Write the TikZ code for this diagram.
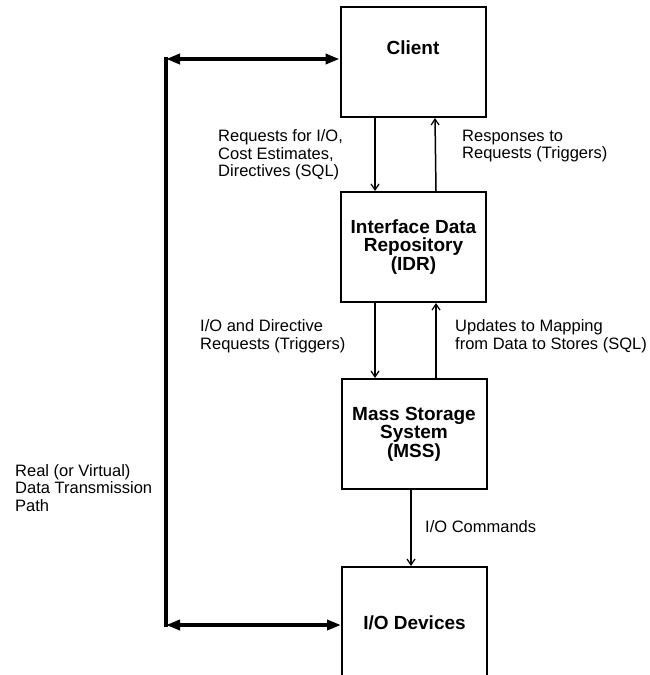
\documentclass[tikz,border=0pt]{standalone}
\usepackage{fontspec}
\setmainfont{Liberation Sans}
\usetikzlibrary{arrows.meta}
\begin{document}
\begin{tikzpicture}[x=1pt,y=-1pt,
  blk/.style={draw,line width=2pt,minimum width=145pt,minimum height=110pt,inner sep=0pt},
  blktext/.style={font=\bfseries\fontsize{19}{18.5}\selectfont,align=center,inner sep=0pt},
  lbl/.style={font=\fontsize{16.5}{17.5}\selectfont,align=left,anchor=west,inner sep=0pt},
  thin/.style={line width=1.5pt,-{Straight Barb[length=6pt,width=8pt,line width=1.2pt]}},
  thick/.style={line width=3.5pt,{Triangle[length=14pt,width=10pt]}-{Triangle[length=14pt,width=10pt]}}]
\useasboundingbox (0,0) rectangle (650,675);
\clip (0,0) rectangle (650,675);
\fill[white] (0,0) rectangle (650,675);
% boxes
\node[blk] (client) at (413,62) {};
\node[blktext] (clienttxt) at (413,48) {Client};
\node[blk,blktext,draw,line width=2pt,minimum width=145pt,minimum height=110pt] (idr) at (413.5,247) {Interface Data\\Repository\\(IDR)};
\node[blk,blktext,draw,line width=2pt,minimum width=145pt,minimum height=110pt] (mss) at (414,434) {Mass Storage\\System\\(MSS)};
\node[blk,blktext,draw,line width=2pt,minimum width=145pt,minimum height=112pt] (io) at (414.5,623) {I/O Devices};
% data path
\coordinate (tl) at (166,59);
\coordinate (bl) at (166,625);
\draw[line width=3.5pt] ([yshift=1.75pt]tl) -- ([yshift=-1.75pt]bl);
\draw[thick] (tl) -- (tl -| client.west);
\draw[thick] (bl) -- (bl -| io.west);
% thin arrows
\draw[thin] ([xshift=-38pt]client.south) -- ([xshift=-38.5pt]idr.north);
\draw[thin] ([xshift=22.5pt]idr.north) -- ([xshift=22pt]client.south);
\draw[thin] ([xshift=-38.5pt]idr.south) -- ([xshift=-39pt]mss.north);
\draw[thin] ([xshift=22pt]mss.north) -- ([xshift=22.5pt]idr.south);
\draw[thin] ([xshift=-3pt]mss.south) -- ([xshift=-3.5pt]io.north);
% labels
\node[lbl] (l1) at (218,155) {Requests for I/O,\\Cost Estimates,\\Directives (SQL)};
\node[lbl] (l2) at (462,146) {Responses to\\Requests (Triggers)};
\node[lbl] (l3) at (200,336) {I/O and Directive\\Requests (Triggers)};
\node[lbl] (l4) at (455,336) {Updates to Mapping\\from Data to Stores (SQL)};
\node[lbl] (l5) at (425,527) {I/O Commands};
\node[lbl] (l6) at (15,488) {Real (or Virtual)\\Data Transmission\\Path};
\end{tikzpicture}
\end{document}
